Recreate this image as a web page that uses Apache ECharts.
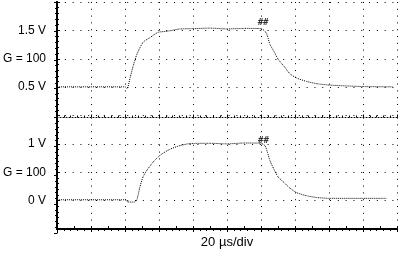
<!DOCTYPE html>
<html><head><meta charset="utf-8">
<script src="https://cdn.jsdelivr.net/npm/echarts@6/dist/echarts.min.js"></script>
<style>html,body{margin:0;padding:0;background:#fff}#c{width:399px;height:254px}</style>
</head><body><div id="c"></div>
<script>
// x in divisions (20 µs/div), y in screen divisions (0..8)
const upperX = [0, 1.0, 2.0, 2.06, 2.15, 2.24, 2.35, 2.53, 2.74, 2.97, 3.24, 3.62, 4.0, 4.5, 5.0, 5.5, 6.0, 6.12, 6.19, 6.26, 6.37, 6.5, 6.7, 6.85, 7.05, 7.34, 7.64, 8.03, 9.0, 9.9];
const upperY = [5.01, 5.01, 5.01, 4.94, 5.33, 5.75, 6.16, 6.58, 6.75, 6.93, 6.97, 7.05, 7.06, 7.08, 7.05, 7.07, 7.06, 6.97, 6.80, 6.51, 6.28, 5.99, 5.70, 5.47, 5.32, 5.20, 5.12, 5.07, 5.02, 5.01];
const lowerX = [0, 1.0, 2.0, 2.09, 2.29, 2.35, 2.44, 2.53, 2.65, 2.82, 3.03, 3.32, 3.62, 3.91, 4.5, 5.0, 5.5, 6.0, 6.12, 6.19, 6.26, 6.37, 6.5, 6.7, 6.85, 7.05, 7.34, 7.64, 8.03, 9.0, 9.7];
const lowerY = [1.03, 1.03, 1.03, 0.95, 0.95, 1.04, 1.49, 1.84, 2.08, 2.35, 2.60, 2.81, 2.94, 3.01, 3.02, 3.00, 3.03, 3.02, 2.93, 2.70, 2.42, 2.13, 1.84, 1.61, 1.44, 1.28, 1.17, 1.11, 1.08, 1.08, 1.08];
const markerX = [6.06, 6.07];
const markerY = [7.27, 3.13];
const yTickValues = [7, 6, 5, 3, 2, 1];
const yTickLabels = ['1.5 V', 'G = 100', '0.5 V', '1 V', 'G = 100', '0 V'];
const xAxisTitle = '20 µs/div';

const labelMap = {};
yTickValues.forEach((v, i) => { labelMap[v] = yTickLabels[i]; });
const zip = (xs, ys) => xs.map((x, i) => [x, ys[i]]);

const font = '"Liberation Sans", Arial, sans-serif';
const chart = echarts.init(document.getElementById('c'), null, {renderer: 'canvas'});
const G = {left: 57, top: 2, width: 340, height: 231};
chart.setOption({
  animation: false,
  backgroundColor: '#fff',
  grid: [
    Object.assign({}, G),
    {left: G.left, top: G.top, width: G.width, height: G.height / 2},
    {left: G.left, top: G.top, width: G.width / 2, height: G.height}
  ],
  xAxis: [
    {gridIndex: 0, type: 'value', min: 0, max: 10, interval: 1, position: 'bottom',
      axisLine: {show: true, lineStyle: {color: '#000', width: 2}},
      axisTick: {show: true, inside: true, length: 3, lineStyle: {color: '#000'}},
      minorTick: {show: true, splitNumber: 2, length: 3, lineStyle: {color: '#000'}},
      axisLabel: {show: false},
      splitLine: {show: true, lineStyle: {color: '#000', width: 1, type: [1, 5.8]}},
      name: xAxisTitle, nameLocation: 'middle', nameGap: 7,
      nameTextStyle: {fontFamily: font, fontSize: 13, color: '#000'}},
    {gridIndex: 0, type: 'value', min: 0, max: 10, interval: 1, position: 'top',
      axisLine: {show: true, lineStyle: {color: '#000', width: 1}},
      axisTick: {show: true, inside: true, length: 3, lineStyle: {color: '#000'}},
      minorTick: {show: true, splitNumber: 5, length: 2, lineStyle: {color: '#000'}},
      axisLabel: {show: false}, splitLine: {show: false}},
    {gridIndex: 1, type: 'value', min: 0, max: 10, interval: 1, position: 'bottom',
      axisLine: {show: true, lineStyle: {color: '#000', width: 1, type: [1, 2]}},
      axisTick: {show: true, inside: true, length: 3, lineStyle: {color: '#000'}},
      minorTick: {show: true, splitNumber: 5, length: 2, lineStyle: {color: '#000'}},
      axisLabel: {show: false}, splitLine: {show: false}},
    {gridIndex: 2, type: 'value', min: 0, max: 10, interval: 1, show: false}
  ],
  yAxis: [
    {gridIndex: 0, type: 'value', min: 0, max: 8, interval: 1, position: 'left',
      axisLine: {show: true, lineStyle: {color: '#000', width: 2}},
      axisTick: {show: true, inside: true, length: 3, lineStyle: {color: '#000'}},
      minorTick: {show: true, splitNumber: 5, length: 2, lineStyle: {color: '#000'}},
      axisLabel: {show: true, margin: 11, fontFamily: font, fontSize: 12, color: '#000',
        formatter: v => labelMap[v] || ''},
      splitLine: {show: true, lineStyle: {color: '#000', width: 1, type: [1, 6.8]}}},
    {gridIndex: 0, type: 'value', min: 0, max: 8, interval: 1, position: 'right',
      axisLine: {show: true, lineStyle: {color: '#000', width: 2}},
      axisTick: {show: false}, axisLabel: {show: false}, splitLine: {show: false}},
    {gridIndex: 1, type: 'value', min: 4, max: 8, show: false},
    {gridIndex: 2, type: 'value', min: 0, max: 8, interval: 1, position: 'right',
      axisLine: {show: true, lineStyle: {color: '#000', width: 1, type: [1, 2]}},
      axisTick: {show: true, inside: true, length: 3, lineStyle: {color: '#000'}},
      minorTick: {show: true, splitNumber: 5, length: 2, lineStyle: {color: '#000'}},
      axisLabel: {show: false}, splitLine: {show: false}}
  ],
  series: [
    {type: 'line', xAxisIndex: 0, yAxisIndex: 0, data: zip(upperX, upperY), showSymbol: false,
      smooth: 0.2, lineStyle: {color: '#000', width: 1, type: [1, 1]}},
    {type: 'line', xAxisIndex: 0, yAxisIndex: 0, data: zip(lowerX, lowerY), showSymbol: false,
      smooth: 0.2, lineStyle: {color: '#000', width: 1, type: [1, 1]}},
    {type: 'scatter', xAxisIndex: 0, yAxisIndex: 0, data: zip(markerX, markerY),
      symbol: 'rect', symbolSize: 1, itemStyle: {color: 'rgba(0,0,0,0)'},
      label: {show: true, position: 'inside', formatter: '##', fontFamily: '"DejaVu Sans Mono", monospace',
        fontSize: 9, fontWeight: 'bold', color: '#000'}}
  ]
});
</script></body></html>
